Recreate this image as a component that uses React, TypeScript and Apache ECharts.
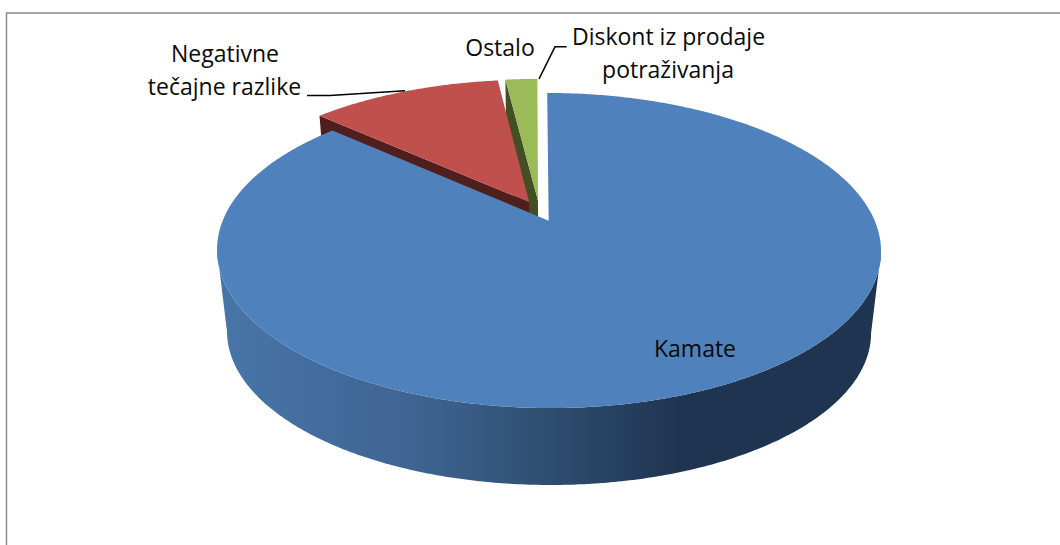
import React, { useEffect, useRef } from "react";
import * as echarts from "echarts";

// Data
const categories = ["Kamate", "Negativne tečajne razlike", "Ostalo", "Diskont iz prodaje potraživanja"];
const shares = [86.7, 11.4, 1.9, 0.05];

// Style
const topColors = ["#4F81BD", "#C0504D", "#9BBB59", "#9BBB59"];
const faceColors = ["#1F3450", "#4F1F1D", "#424F25", "#424F25"];
const rimStops = [
  { offset: 0, color: "#4875A8" },
  { offset: 0.3, color: "#3E6492" },
  { offset: 0.45, color: "#325478" },
  { offset: 0.7, color: "#1F3450" },
  { offset: 1, color: "#1F3450" },
];
const FONT = "'Open Sans', sans-serif";
const MIN_DRAWN_ANGLE = 0.005;

// Projection of the tilted pie
const CX = 539.4, CY = 211.1, W = 322.1, H = 148.3, K = 0.1869;
const EXPLODE = 0.07;
const VP_X = 549, VP_Y = 2973, DEPTH_SCALE = 0.97;

const project = (px: number, py: number): [number, number] => {
  const d = 1 + K * py;
  return [CX + (W * px) / d, CY - (H * py) / d];
};
const lower = ([x, y]: [number, number]): [number, number] => [
  VP_X + DEPTH_SCALE * (x - VP_X),
  VP_Y + DEPTH_SCALE * (y - VP_Y),
];

function sliceGeometry(index: number) {
  const total = shares.reduce((a, b) => a + b, 0);
  const before = shares.slice(0, index).reduce((a, b) => a + b, 0);
  const a0 = (before / total) * Math.PI * 2;
  const a1 = ((before + shares[index]) / total) * Math.PI * 2;
  const mid = (a0 + a1) / 2;
  const ox = EXPLODE * Math.sin(mid);
  const oy = EXPLODE * Math.cos(mid);
  const rimPoint = (a: number) => project(ox + Math.sin(a), oy + Math.cos(a));
  return { a0, a1, apex: project(ox, oy), rimPoint };
}

function renderSlice(params: any) {
  const i = params.dataIndex;
  const { a0, a1, apex, rimPoint } = sliceGeometry(i);
  if (a1 - a0 < MIN_DRAWN_ANGLE) return null;
  const rear = i !== 0;
  const baseZ = rear ? (i === 1 ? 20 : 10) : 40;
  const children: any[] = [];

  const rim: [number, number][] = [];
  const steps = Math.max(2, Math.ceil((a1 - a0) / 0.01));
  for (let s = 0; s <= steps; s++) rim.push(rimPoint(a0 + ((a1 - a0) * s) / steps));

  if (rear) {
    // radial face on the slice's leading edge
    children.push({
      type: "polygon",
      z2: baseZ,
      shape: { points: [rim[0], apex, lower(apex), lower(rim[0])] },
      style: { fill: faceColors[i] },
    });
  } else {
    // outer wall along the front of the pie, silhouette to silhouette
    let right = rim[0], left = rim[0], ri = 0, li = 0;
    rim.forEach((p, k) => {
      if (p[0] > right[0]) { right = p; ri = k; }
      if (p[0] < left[0]) { left = p; li = k; }
    });
    const upper = rim.slice(ri, li + 1);
    children.push({
      type: "polygon",
      z2: baseZ,
      shape: { points: [...upper, ...upper.map(lower).reverse()] },
      style: { fill: new echarts.graphic.LinearGradient(0, 0, 1, 0, rimStops) },
    });
  }
  children.push({
    type: "polygon",
    z2: rear && i > 1 ? 30 : baseZ + 1,
    shape: { points: [apex, ...rim] },
    style: { fill: topColors[i] },
  });
  return { type: "group", children };
}

const text = (t: string, x: number, y: number) => ({
  type: "text",
  x,
  y,
  z: 10,
  style: {
    text: t,
    font: `23px ${FONT}`,
    fill: "#0A0A0A",
    textAlign: "center",
    textVerticalAlign: "middle",
  },
});
const line = (points: number[][], stroke = "#000", lineWidth = 1.6) => ({
  type: "polyline",
  z: 9,
  shape: { points },
  style: { stroke, lineWidth, fill: "none" },
});

export default function App() {
  const ref = useRef<HTMLDivElement>(null);
  useEffect(() => {
    const chart = echarts.init(ref.current!, undefined, { renderer: "svg" });
    chart.setOption({
      animation: false,
      backgroundColor: "#fff",
      series: [
        {
          type: "custom",
          coordinateSystem: "none",
          silent: true,
          data: categories.map((name, i) => ({ name, value: [shares[i]] })),
          renderItem: renderSlice,
        },
      ],
      graphic: [
        line([[6.5, 545], [6.5, 13], [1060, 13]], "#8A8A8A", 1.5),
        line([[307, 95.5], [330, 95.5], [405, 90.7]]),
        line([[566.7, 46.7], [555, 46.7], [539, 79]]),
        text("Negativne", 225, 53),
        text("tečajne razlike", 224.5, 86),
        text("Ostalo", 500, 46.5),
        text("Diskont iz prodaje", 668.5, 36),
        text("potraživanja", 668, 69),
        text("Kamate", 695, 348),
      ],
    });
    return () => chart.dispose();
  }, []);
  return <div ref={ref} style={{ position: "absolute", left: 0, top: 0, width: 1060, height: 545 }} />;
}
